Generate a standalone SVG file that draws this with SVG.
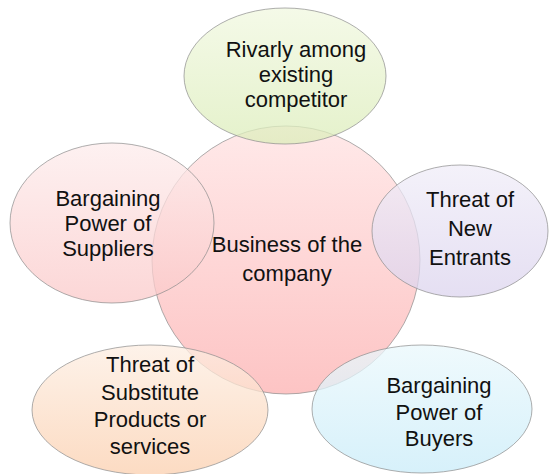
<svg xmlns="http://www.w3.org/2000/svg" width="556" height="474" viewBox="0 0 556 474">
<defs>
<linearGradient id="gCenter" x1="0" y1="0" x2="0" y2="1"><stop offset="0" stop-color="#ffe9e9"/><stop offset="1" stop-color="#fdc4c4"/></linearGradient>
<linearGradient id="gGreen" x1="0" y1="0" x2="0" y2="1"><stop offset="0" stop-color="#f1f8e0"/><stop offset="1" stop-color="#dcedba"/></linearGradient>
<linearGradient id="gPink" x1="0" y1="0" x2="0" y2="1"><stop offset="0" stop-color="#fdecec"/><stop offset="1" stop-color="#fbc9c9"/></linearGradient>
<linearGradient id="gPurple" x1="0" y1="0" x2="0" y2="1"><stop offset="0" stop-color="#f0edf8"/><stop offset="1" stop-color="#dcd4ee"/></linearGradient>
<linearGradient id="gOrange" x1="0" y1="0" x2="0" y2="1"><stop offset="0" stop-color="#fdeee2"/><stop offset="1" stop-color="#fbcfae"/></linearGradient>
<linearGradient id="gBlue" x1="0" y1="0" x2="0" y2="1"><stop offset="0" stop-color="#eaf8fc"/><stop offset="1" stop-color="#c9ecf9"/></linearGradient>
</defs>
<style>
.shape{stroke:#8c8c8c;stroke-width:1;stroke-opacity:0.7;fill-opacity:0.75}
.lbl{font-family:"Liberation Sans",Arial,sans-serif;font-size:22px;fill:#111;text-anchor:middle}
</style>
<g id="center">
<circle class="shape" cx="286" cy="260" r="134" fill="url(#gCenter)" style="fill-opacity:1"/>
</g>
<g id="rivalry">
<ellipse class="shape" cx="285" cy="76" rx="101" ry="68" fill="url(#gGreen)"/>
<text class="lbl"><tspan x="296" y="57">Rivarly among</tspan><tspan x="296" y="82">existing</tspan><tspan x="296" y="107">competitor</tspan></text>
</g>
<g id="suppliers">
<ellipse class="shape" cx="112" cy="223" rx="102" ry="80" fill="url(#gPink)"/>
<text class="lbl"><tspan x="108" y="206">Bargaining</tspan><tspan x="108" y="231">Power of</tspan><tspan x="108" y="256">Suppliers</tspan></text>
</g>
<g id="entrants">
<ellipse class="shape" cx="460" cy="231" rx="88" ry="66" fill="url(#gPurple)"/>
<text class="lbl"><tspan x="470" y="207">Threat of</tspan><tspan x="470" y="236">New</tspan><tspan x="470" y="265">Entrants</tspan></text>
</g>
<g id="substitutes">
<ellipse class="shape" cx="150" cy="410" rx="118" ry="65" fill="url(#gOrange)"/>
<text class="lbl"><tspan x="150" y="372">Threat of</tspan><tspan x="150" y="400">Substitute</tspan><tspan x="150" y="427">Products or</tspan><tspan x="150" y="454">services</tspan></text>
</g>
<g id="buyers">
<ellipse class="shape" cx="422" cy="409" rx="110" ry="64" fill="url(#gBlue)"/>
<text class="lbl"><tspan x="439" y="393">Bargaining</tspan><tspan x="439" y="420">Power of</tspan><tspan x="439" y="446">Buyers</tspan></text>
</g>
<g id="centerLabel">
<text class="lbl"><tspan x="287" y="252">Business of the</tspan><tspan x="287" y="281">company</tspan></text>
</g>
<g id="connectors"></g>
</svg>
